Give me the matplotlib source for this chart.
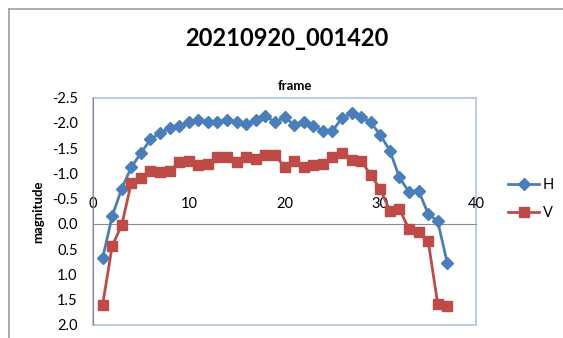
import numpy as np
import matplotlib
matplotlib.use("Agg")
import matplotlib.pyplot as plt
from matplotlib.lines import Line2D
from matplotlib.patches import Rectangle

# data
frames = list(range(1, 38))
mag_h = [0.68, -0.15, -0.70, -1.12, -1.40, -1.67, -1.80, -1.89, -1.94, -2.01,
         -2.06, -2.01, -2.01, -2.06, -2.01, -1.97, -2.06, -2.14, -2.01, -2.11,
         -1.96, -2.01, -1.94, -1.84, -1.84, -2.09, -2.19, -2.11, -2.01, -1.76,
         -1.45, -0.92, -0.63, -0.66, -0.20, -0.05, 0.77]
mag_v = [1.61, 0.44, 0.02, -0.81, -0.90, -1.05, -1.02, -1.05, -1.22, -1.25,
         -1.17, -1.19, -1.32, -1.32, -1.22, -1.32, -1.28, -1.36, -1.36, -1.13,
         -1.25, -1.12, -1.17, -1.19, -1.32, -1.40, -1.27, -1.25, -0.97, -0.69,
         -0.26, -0.30, 0.11, 0.16, 0.33, 1.58, 1.63]
xticks = [0, 10, 20, 30, 40]
yticks = [-2.5, -2.0, -1.5, -1.0, -0.5, 0.0, 0.5, 1.0, 1.5, 2.0]

plt.rcParams['font.family'] = ['Lato', 'DejaVu Sans']
plt.rcParams['axes.unicode_minus'] = False

W, H = 563, 338
fig = plt.figure(figsize=(W/100, H/100), dpi=100)

#outer chart border (left + top only visible)
gray = '#a6a6a6'
fig.add_artist(Line2D([8.5/W, 8.5/W], [0, 1-9/H], color=gray, lw=1.3))
fig.add_artist(Line2D([8.5/W, 1], [1-9/H, 1-9/H], color=gray, lw=1.3))

ax = fig.add_axes([93/W, 1-325/H, (476-93)/W, (325-97.5)/H])
blue = '#4a7ebb'
red = '#be4b48'
ax.plot(frames, mag_h, color=blue, lw=2, marker='D', ms=6.5, label='H', zorder=3)
ax.plot(frames, mag_v, color=red, lw=2, marker='s', ms=7, label='V', zorder=3)

ax.set_xlim(0, 40)
ax.set_ylim(2.0, -2.5)
ax.set_xticks(xticks)
ax.set_yticks(yticks)
ax.set_yticklabels(['%.1f' % v for v in yticks])

#x axis crosses at 0, labels above it
ax.xaxis.tick_top()
ax.spines['top'].set_position(('data', 0))
ax.spines['top'].set_color('#8c8c8c')
ax.spines['left'].set_color('#8c8c8c')
ax.spines['right'].set_visible(False)
ax.spines['bottom'].set_visible(False)
ax.add_patch(Rectangle((0, 0), 1, 1, transform=ax.transAxes, fill=False,
                       edgecolor='#b4c7e7', lw=1.3, zorder=1, clip_on=False))
ax.tick_params(axis='both', length=0, labelsize=10.5, colors='black')
ax.tick_params(axis='x', pad=9)
ax.tick_params(axis='y', pad=11)

fig.text(287/W, 1-38/H, '20210920_001420', fontsize=17, fontweight='bold',
         ha='center', va='center')
fig.text(295/W, 1-86/H, 'frame', fontsize=9.5, fontweight='bold',
         ha='center', va='center')
fig.text(38/W, 1-212/H, 'magnitude', fontsize=9.5, fontweight='bold',
         rotation=90, ha='center', va='center')

fig.legend(loc='center left', bbox_to_anchor=(504/W, 1-199/H), frameon=False,
           fontsize=10.5, handlelength=2.1, handletextpad=0.25, labelspacing=0.95,
           borderaxespad=0, borderpad=0.3)

fig.savefig('out.png', dpi=100)
